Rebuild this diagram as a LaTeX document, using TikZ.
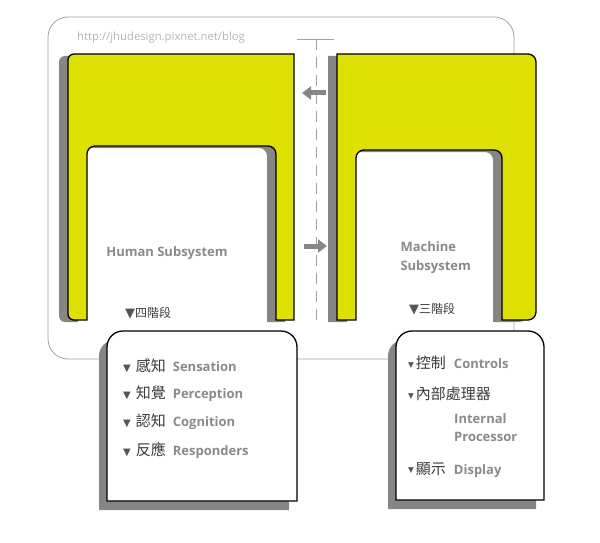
\documentclass[tikz,border=0pt]{standalone}
\usepackage{fontspec}
\setmainfont{Open Sans}
\newfontfamily\cjk{Noto Sans CJK TC}
\newfontfamily\sym{DejaVu Sans}
\usetikzlibrary{arrows.meta}
\definecolor{plate}{HTML}{DDE000}
\definecolor{shadowgray}{HTML}{868686}
\definecolor{labelgray}{HTML}{8A8A8A}
\definecolor{framegray}{HTML}{A0A0A0}
\definecolor{urlgray}{HTML}{B4B4B4}
\definecolor{zhgray}{HTML}{3A3A3A}
\definecolor{trigray}{HTML}{555555}
\newcommand\zhfont{\cjk\fontsize{15}{18}\selectfont\color{zhgray}}
\newcommand\enfont{\fontsize{13}{18}\selectfont\bfseries\color{labelgray}}

\begin{document}
\begin{tikzpicture}[x=1pt,y=-1pt,
  ushadow/.style={fill=shadowgray},
  uplate/.style={fill=plate,draw=black,line width=1.3pt},
  boxshadow/.style={fill=shadowgray},
  boxplate/.style={fill=white,draw=black,line width=1.3pt},
  en/.style={font=\fontsize{13}{19}\selectfont\bfseries,text=labelgray},
  item/.style={anchor=west,inner sep=0pt},
  blockarrow/.style={draw=shadowgray,line width=5pt,-{Triangle[length=9pt 0 0,width=13pt 0 0]}}]
\useasboundingbox (0,0) rectangle (600,543);
\draw[framegray,line width=0.8pt,rounded corners=20] (48,17) rectangle (514,359);
\node[item,font=\fontsize{11.3}{13}\selectfont,text=urlgray] (url) at (77,38) {http://jhudesign.pixnet.net/blog};
\draw[framegray] (297,39) -- (334,39);
\draw[framegray,dash pattern=on 11pt off 7pt] (316,39) -- (316,320);
\foreach \dx/\dy/\sty in {-9/2/ushadow,0/0/uplate}{
\path[\sty,shift={(\dx,\dy)}] (180,54) -- (294,54) -- (294,320) -- (276,320) [rounded corners=8] -- (276,146) -- (87,146) [sharp corners] -- (87,320) [rounded corners=6] -- (68,320) -- (68,54) -- cycle;
\path[\sty,shift={(\dx,\dy)}] (420,54) [rounded corners=8] -- (536,54) -- (536,320) [sharp corners] -- (502,320) [rounded corners=8] -- (502,150) -- (356,150) [sharp corners] -- (356,320) -- (337,320) -- (337,54) -- cycle;
}
\coordinate (toleft) at (302,93);
\coordinate (fromright) at (326,93);
\coordinate (fromleft) at (304,246);
\coordinate (toright) at (327,246);
\draw[blockarrow] (fromright) -- (toleft);
\draw[blockarrow] (fromleft) -- (toright);
\foreach \dx/\dy/\sty in {-8/9/boxshadow,0/0/boxplate}{
\path[\sty,shift={(\dx,\dy)}] (200,501) -- (107,501) [rounded corners=16] -- (107,331) -- (297,331) [sharp corners] -- (297,501) -- cycle;
\path[\sty,shift={(\dx,\dy)}] (470,500) -- (396,500) [rounded corners=16] -- (396,331) -- (544,331) [sharp corners] -- (544,500) -- cycle;
}
\node[en] (human) at (167,253) {Human Subsystem};
\node[en,anchor=west,align=left] (machine) at (397,258) {Machine\\Subsystem};
\node[item] (humstage) at (125,313) {{\sym\fontsize{13}{14}\selectfont\color{trigray}▼}{\cjk\fontsize{12}{14}\selectfont\color{zhgray}四階段}};
\node[item] (machstage) at (409,309) {{\sym\fontsize{13}{14}\selectfont\color{trigray}▼}{\cjk\fontsize{12}{14}\selectfont\color{zhgray}三階段}};
\foreach \y/\zh/\word [count=\i] in {366/感知/Sensation,394/知覺/Perception,422/認知/Cognition,451/反應/Responders}
\node[item] (hum\i) at (123,\y) {{\sym\fontsize{10}{12}\selectfont\color{trigray}▼}\hspace{5pt}{\zhfont\zh}\hspace{7pt}{\enfont\word}};
\node[item] (mac1) at (408,363) {\raisebox{1.5pt}{\sym\fontsize{7.5}{12}\selectfont\color{trigray}▼}\hspace{2pt}{\zhfont 控制}\hspace{8pt}{\enfont Controls}};
\node[item] (mac2) at (408,394) {\raisebox{1.5pt}{\sym\fontsize{7.5}{12}\selectfont\color{trigray}▼}\hspace{2pt}{\zhfont 內部處理器}};
\node[en,anchor=west,align=left,inner sep=0pt,font=\fontsize{13}{18}\selectfont\bfseries] (mac2en) at (454,428) {Internal\\Processor};
\node[item] (mac3) at (408,470) {\raisebox{1.5pt}{\sym\fontsize{7.5}{12}\selectfont\color{trigray}▼}\hspace{2pt}{\zhfont 顯示}\hspace{8pt}{\enfont Display}};
\end{tikzpicture}
\end{document}
